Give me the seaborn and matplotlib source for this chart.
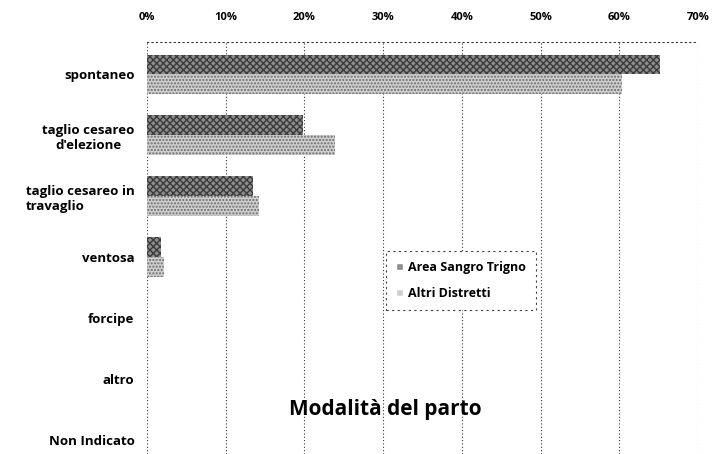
import pandas as pd
import matplotlib
matplotlib.use('Agg')
import matplotlib.pyplot as plt
import seaborn as sns

categories = ['spontaneo', "taglio cesareo\nd'elezione", 'taglio cesareo in\ntravaglio',
              'ventosa', 'forcipe', 'altro', 'Non Indicato']
area_sangro = [65.2, 19.8, 13.5, 1.8, 0.0, 0.0, 0.0]
altri_distretti = [60.3, 23.9, 14.2, 2.2, 0.0, 0.0, 0.0]
series = ['Area Sangro Trigno', 'Altri Distretti']
xticks = [0, 10, 20, 30, 40, 50, 60, 70]

df = pd.DataFrame({
    'modalita': categories * 2,
    'valore': area_sangro + altri_distretti,
    'serie': [series[0]] * len(categories) + [series[1]] * len(categories),
})

sns.set_style('white')
plt.rcParams['font.family'] = ['Open Sans', 'DejaVu Sans']
plt.rcParams['font.weight'] = 'bold'
plt.rcParams['text.color'] = 'black'
plt.rcParams['xtick.color'] = 'black'
plt.rcParams['ytick.color'] = 'black'

fig = plt.figure(figsize=(7.14, 4.54), dpi=100)
ax = fig.add_axes([147/714, 0, 551/714, 412/454])

sns.barplot(data=df, y='modalita', x='valore', hue='serie', orient='h',
            palette=['#8c8c8c', '#cfcfcf'], width=0.64, ax=ax, legend=True)

hatches = ['xxxxx', '.....']
edges = ['#3a3a3a', '#6a6a6a']
for cont, h, ec in zip(ax.containers, hatches, edges):
    for bar in cont:
        bar.set_hatch(h)
        bar.set_edgecolor(ec)
        bar.set_linewidth(0)

ax.set_xlim(0, 70)
ax.set_ylim(6.23, -0.525)
ax.xaxis.tick_top()
ax.set_xticks(xticks)
ax.set_xticklabels([f'{t}%' for t in xticks], fontsize=8, fontweight='bold')
ax.tick_params(axis='both', length=0, pad=14)
ax.tick_params(axis='y', pad=9)
ax.set_xlabel('')
ax.set_ylabel('')

labels = ax.get_yticklabels()
for lab, ma in zip(labels, ['right', 'center', 'left', 'right', 'right', 'right', 'right']):
    lab.set_fontsize(9.5)
    lab.set_fontweight('bold')
    lab.set_multialignment(ma)

ax.grid(axis='x', color='#333333', linestyle=(0, (1, 2)), linewidth=0.8)
ax.set_axisbelow(True)
for s in ['right', 'bottom', 'left']:
    ax.spines[s].set_visible(False)
ax.spines['top'].set_linestyle((0, (1, 3)))
ax.spines['top'].set_color('#333333')
ax.spines['top'].set_linewidth(0.8)

leg = ax.legend(loc='upper left', bbox_to_anchor=(0.423, 0.507), fontsize=9,
                handlelength=0.5, handleheight=0.5, handletextpad=0.4,
                borderpad=0.8, labelspacing=1.0, fancybox=False, framealpha=1)
leg.get_frame().set_linestyle((0, (2, 3)))
leg.get_frame().set_edgecolor('#444444')
leg.get_frame().set_linewidth(0.8)
for t in leg.get_texts():
    t.set_fontweight('bold')

ax.text(0.432, 0.107, 'Modalità del parto', transform=ax.transAxes,
        ha='center', va='center', fontsize=15, fontweight='bold')

fig.savefig('out.png', dpi=100)
